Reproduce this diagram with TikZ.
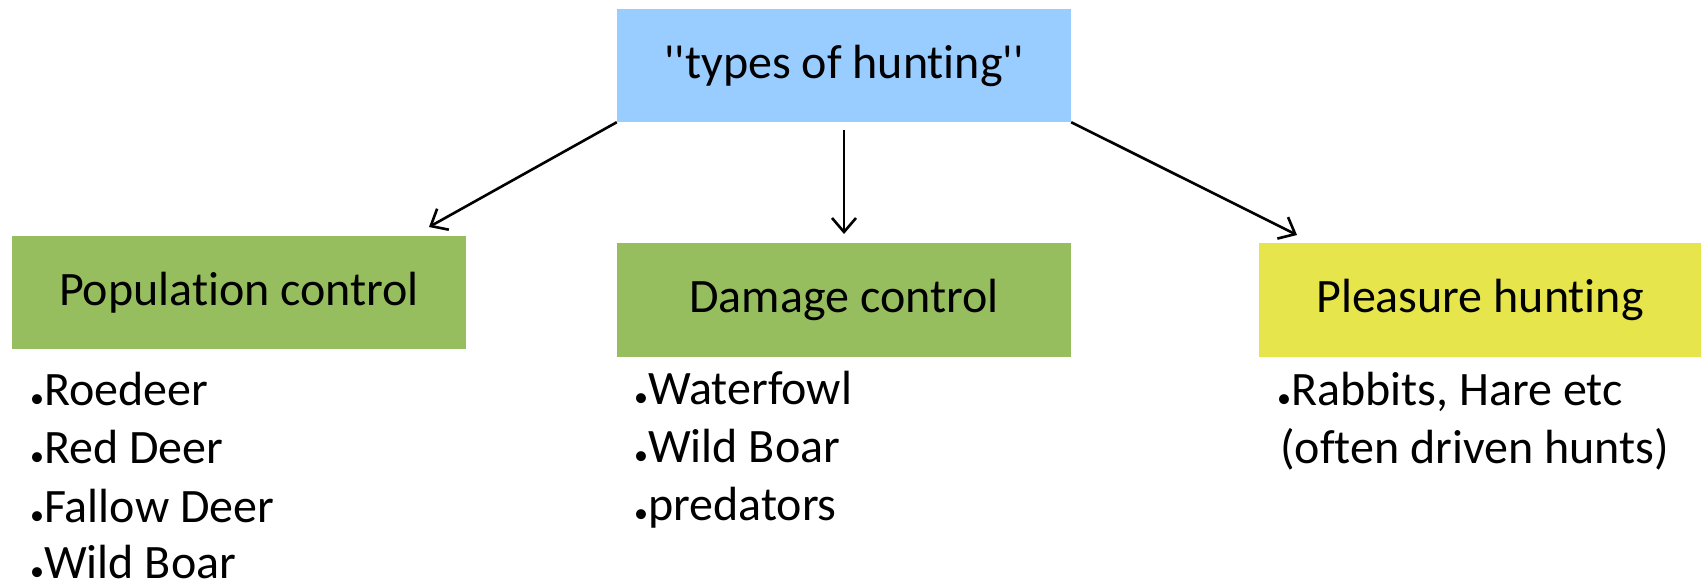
\documentclass[tikz,border=0pt]{standalone}
\usepackage{fontspec}
\setmainfont{Carlito}[Ligatures={TeX,NoCommon}]
\usetikzlibrary{arrows.meta,calc}
\definecolor{topblue}{HTML}{99CCFF}
\definecolor{boxgreen}{HTML}{96BD5E}
\definecolor{boxyellow}{HTML}{E6E64C}
\newcommand{\bul}{\raisebox{-2pt}{\fontsize{28}{28}\selectfont\textbullet}}
\tikzset{
  box/.style={rectangle, inner sep=0pt, font=\fontsize{48}{56}\selectfont},
  item/.style={anchor=base west, inner sep=0pt, font=\fontsize{48}{58}\selectfont},
  link/.style={line width=2.6pt, -{Straight Barb[length=14pt,width=24pt,line width=2.6pt]}}
}
\begin{document}
\begin{tikzpicture}[x=1pt,y=-1pt]
\useasboundingbox (0,0) rectangle (1701,586);
\node[box, fill=topblue, minimum width=454pt, minimum height=113pt] (top) at (844,65.5) {\textquotesingle\textquotesingle types of hunting\textquotesingle\textquotesingle};
\node[box, fill=boxgreen, minimum width=454pt, minimum height=113pt] (pop) at (239,292.5) {Population control};
\node[box, fill=boxgreen, minimum width=454pt, minimum height=114pt] (dam) at (844,300) {Damage control};
\node[box, fill=boxyellow, minimum width=442pt, minimum height=114pt] (ple) at (1480,300) {Pleasure hunting};

\coordinate (popin) at (429,227);
\coordinate (damin) at (844,234);
\coordinate (plein) at (1297,235);
\draw[link] (top.south west) -- (popin);
\draw[link] ($(top.south)+(0,8)$) -- (damin);
\draw[link] (top.south east) -- (plein);

\node[item] (p1) at (30,405) {\bul Roedeer};
\node[item] (p2) at (30,463) {\bul Red Deer};
\node[item] (p3) at (30,522) {\bul Fallow Deer};
\node[item] (p4) at (30,578) {\bul Wild Boar};

\node[item] (d1) at (634,404) {\bul Waterfowl};
\node[item] (d2) at (634,462) {\bul Wild Boar};
\node[item] (d3) at (634,520) {\bul predators};

\node[item] (r1) at (1277,405) {\bul Rabbits, Hare etc};
\node[item] (r2) at (1280,463) {(often driven hunts)};
\end{tikzpicture}
\end{document}
